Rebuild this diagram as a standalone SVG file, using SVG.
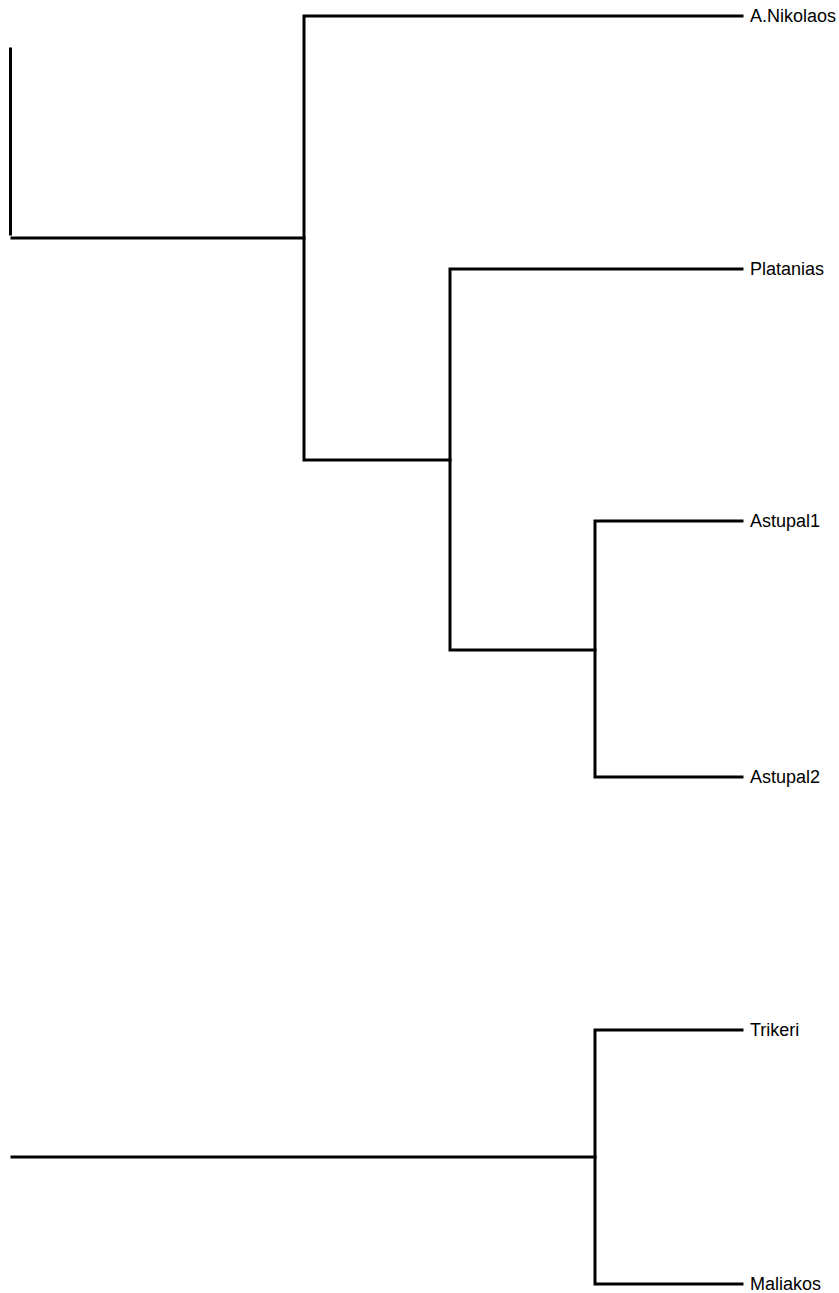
<svg xmlns="http://www.w3.org/2000/svg" width="839" height="1293" viewBox="0 0 839 1293">
<style>
.e{fill:none;stroke:#000;stroke-width:3;stroke-linecap:square;stroke-linejoin:miter}
.t{font-family:"Liberation Sans",Arial,sans-serif;font-size:18px;fill:#000}
</style>
<rect width="839" height="1293" fill="#fff"/>
<g id="connectors">
<path class="e" d="M10.5,49V234"/>
<path class="e" d="M12,238H304"/>
<path class="e" d="M742,16H304V460H450"/>
<path class="e" d="M742,269H450V650H595"/>
<path class="e" d="M742,521H595V777H742"/>
<path class="e" d="M742,1030H595V1284H742"/>
<path class="e" d="M12,1157H595"/>
</g>
<g id="n1"><text class="t" x="750" y="22">A.Nikolaos</text></g>
<g id="n2"><text class="t" x="750" y="275">Platanias</text></g>
<g id="n3"><text class="t" x="750" y="527">Astupal1</text></g>
<g id="n4"><text class="t" x="750" y="783">Astupal2</text></g>
<g id="n5"><text class="t" x="750" y="1036">Trikeri</text></g>
<g id="n6"><text class="t" x="750" y="1290">Maliakos</text></g>
</svg>
